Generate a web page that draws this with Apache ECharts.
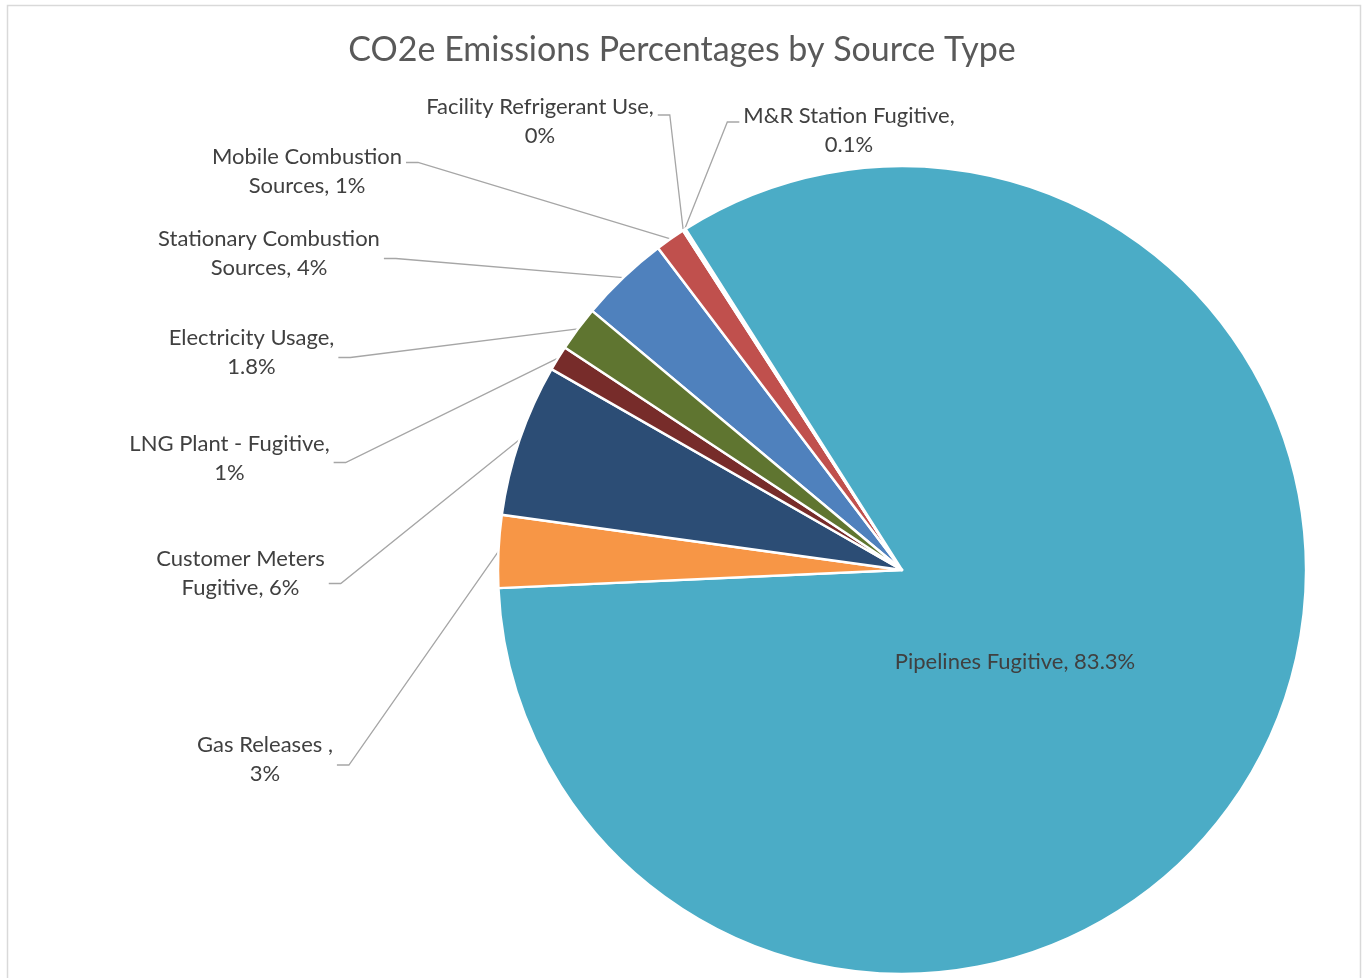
<!DOCTYPE html>
<html>
<head>
<meta charset="utf-8">
<script src="https://cdn.jsdelivr.net/npm/echarts@6/dist/echarts.min.js"></script>
<style>
  html, body { margin: 0; padding: 0; background: #ffffff; }
  #chart { width: 1364px; height: 978px; }
</style>
</head>
<body>
<div id="chart"></div>
<script>
// ---- data ----
const categories = [
  "Stationary Combustion Sources",
  "Mobile Combustion Sources",
  "Facility Refrigerant Use",
  "M&R Station Fugitive",
  "Pipelines Fugitive",
  "Gas Releases ",
  "Customer Meters Fugitive",
  "LNG Plant - Fugitive",
  "Electricity Usage"
];
const values = [3.6, 1.2, 0.02, 0.1, 83.3, 2.9, 6.1, 1.0, 1.8];
const labelDecimals = [0, 0, 0, 1, 1, 0, 0, 0, 1];
const labelSeparators = [", ", ", ", ",\n", ",\n", ", ", ",\n", ", ", ",\n", ",\n"];
const colors = ["#4F81BD", "#C0504D", "#9BBB59", "#8064A2", "#4BACC6", "#F79646", "#2C4D75", "#772C2A", "#5F7530"];

// ---- layout (label block centres, line attachment side & vertical offset) ----
const labelCenters = [
  [269, 253.5], [307, 171.5], [540, 121], [849, 130], [1015, 662],
  [265, 759], [240.5, 573.5], [229.5, 458.5], [251.5, 352.5]
];
const lineSide = ['right', 'right', 'right', 'left', null, 'right', 'right', 'right', 'right'];
const lineDy = [5, -9, -6, -8, 0, 6, 10, 4, 5];
const wrapInName = [true, true, false, false, false, false, true, false, false];

const chart = echarts.init(document.getElementById('chart'), null, { renderer: 'canvas' });
const FONT = 'Lato, "Open Sans", sans-serif';

const option = {
  animation: false,
  title: {
    text: 'CO2e Emissions Percentages by Source Type',
    left: 'center',
    top: 33,
    padding: 0,
    textStyle: { fontFamily: FONT, fontSize: 34, fontWeight: 'normal', color: '#595959' }
  },
  graphic: [{
    type: 'rect',
    shape: { x: 7.5, y: 5.5, width: 1353, height: 990 },
    style: { fill: 'none', stroke: '#d9d9d9', lineWidth: 1.5 },
    silent: true
  }],
  series: [{
    type: 'pie',
    center: [902, 570],
    radius: 404,
    startAngle: 140.1,
    clockwise: true,
    avoidLabelOverlap: false,
    minShowLabelAngle: 0,
    emphasis: { disabled: true },
    itemStyle: { borderColor: '#ffffff', borderWidth: 2.5 },
    label: {
      show: true,
      position: 'outside',
      fontFamily: FONT,
      fontSize: 22,
      lineHeight: 29,
      color: '#404040',
      formatter: function (p) {
        const i = p.dataIndex;
        let name = categories[i];
        if (wrapInName[i]) {
          const k = name.lastIndexOf(' ');
          name = name.slice(0, k) + '\n' + name.slice(k + 1);
        }
        return name + labelSeparators[i] + values[i].toFixed(labelDecimals[i]) + '%';
      }
    },
    labelLine: {
      show: true,
      length: 10,
      length2: 10,
      lineStyle: { color: '#a6a6a6', width: 1.3 }
    },
    labelLayout: function (params) {
      const i = params.dataIndex;
      const c = labelCenters[i];
      const w = params.labelRect.width;
      const res = { x: c[0], y: c[1], align: 'center', verticalAlign: 'middle' };
      const pts = params.labelLinePoints;
      if (lineSide[i] && pts) {
        const p0 = pts[0];
        const ay = c[1] + lineDy[i];
        let p2, p1;
        if (lineSide[i] === 'right') {
          p2 = [c[0] + w / 2 + 4, ay];
          p1 = [p2[0] + 12, ay];
        } else {
          p2 = [c[0] - w / 2 - 4, ay];
          p1 = [p2[0] - 12, ay];
        }
        res.labelLinePoints = [p0, p1, p2];
      }
      return res;
    },
    data: categories.map(function (name, i) {
      const item = { name: name, value: values[i], itemStyle: { color: colors[i] } };
      if (i === 4) item.labelLine = { show: false };
      return item;
    })
  }]
};
chart.setOption(option);
</script>
</body>
</html>
